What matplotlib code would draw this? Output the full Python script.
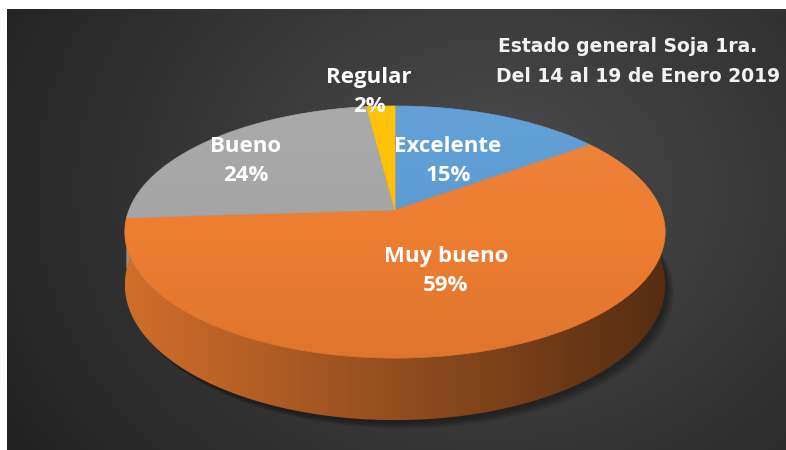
import numpy as np
import matplotlib.pyplot as plt
from matplotlib.patches import Polygon
from matplotlib.colors import to_rgb

# Datos
categorias = ['Excelente', 'Muy bueno', 'Bueno', 'Regular']
porcentajes = [15, 59, 24, 2]
colores = ['#5B9BD5', '#ED7D31', '#A5A5A5', '#FFC000']
titulo = ['Estado general Soja 1ra.', 'Del 14 al 19 de Enero 2019']

# Posición de las etiquetas (px)
pos_etiquetas = [(448, 161), (446, 271), (246, 161), (369, 92)]

# Geometría del pastel 3D (px, con perspectiva)
cx, cy = 395, 210
A, B, E = 266, 122.2, 0.1746
H = 51.2


def proyectar(t, z=0.0):
    x, y = np.cos(t), np.sin(t)
    w = 1 + E * y
    return cx + A * x / w, cy - B * y / w + H * z / w


fig = plt.figure(figsize=(7.86, 4.5), dpi=100, facecolor='white')
ax = fig.add_axes([0, 0, 1, 1])

# Fondo con degradado radial
xs = np.arange(7, 786)
ys = np.arange(9, 450)
X, Y = np.meshgrid(xs, ys)
d = np.clip(np.hypot(X - 490, (Y - 190) * 1.2) / 560, 0, 1)
c0 = np.array(to_rgb('#4d4d4d'))
c1 = np.array(to_rgb('#222222'))
fondo = c0 + (c1 - c0) * d[..., None]
ax.imshow(fondo, extent=(7, 786, 450, 9), zorder=0)

# Ángulos de cada porción (sentido horario desde arriba)
acum = np.cumsum([0] + porcentajes) / sum(porcentajes)
inicio = np.deg2rad(90 - 360 * acum[:-1])
fin = np.deg2rad(90 - 360 * acum[1:])

# Sombra
tt = np.linspace(0, 2 * np.pi, 300)
for k in range(8):
    bx, by = proyectar(tt, 1)
    ax.add_patch(Polygon(np.column_stack([bx + 2 + k, by + 3 + k * 0.8]),
                         closed=True, fc='black', ec='none', alpha=0.05, zorder=1))

# Lateral del cilindro: parte frontal de cada porción con degradado horizontal
xl, _ = proyectar(np.linspace(np.pi, 2 * np.pi, 400))
xmin, xmax = xl.min(), xl.max()
gx = np.linspace(0, 1, 400)
fact = 0.88 - 0.52 * gx
for i in range(len(porcentajes)):
    t = np.linspace(fin[i], inicio[i], 300)
    tm = t % (2 * np.pi)
    vis = tm >= np.pi
    if not vis.any():
        continue
    t = np.sort(tm[vis])
    sx, sy = proyectar(t)
    bx, by = proyectar(t[::-1], 1)
    lado = Polygon(np.column_stack([np.r_[sx, bx], np.r_[sy, by]]), closed=True,
                   fc='none', ec='none')
    ax.add_patch(lado)
    img = np.clip(np.array(to_rgb(colores[i]))[None, None, :] * fact[None, :, None], 0, 1)
    im = ax.imshow(img, extent=(xmin, xmax, 430, 200), zorder=2,
                   interpolation='bilinear')
    im.set_clip_path(lado)

# Cara superior
for i in range(len(porcentajes)):
    t = np.linspace(inicio[i], fin[i], 200)
    px, py = proyectar(t)
    pts = np.column_stack([np.r_[cx, px], np.r_[cy, py]])
    ax.add_patch(Polygon(pts, closed=True, fc=colores[i], ec=colores[i],
                         lw=0.5, zorder=3))

# Brillo suave sobre la cara superior
tx, ty = proyectar(tt)
borde = Polygon(np.column_stack([tx, ty]), closed=True, fc='none', ec='none')
ax.add_patch(borde)
g = np.linspace(0, 1, 200)[:, None]
brillo = np.zeros((200, 2, 4))
brillo[..., :3] = np.where(g[..., None] < 0.5, 1.0, 0.0)
brillo[..., 3] = np.abs(g - 0.5) * 0.12
im = ax.imshow(brillo, extent=(tx.min(), tx.max(), ty.max(), ty.min()), zorder=4)
im.set_clip_path(borde)

# Etiquetas
for nombre, valor, (lx, ly) in zip(categorias, porcentajes, pos_etiquetas):
    ax.text(lx, ly, f'{nombre}\n{valor}%', ha='center', va='center',
            multialignment='center', color='white', fontsize=16,
            fontweight='bold', family=['Open Sans', 'DejaVu Sans'],
            linespacing=1.45, zorder=5)

# Título
ax.text(628, 47, titulo[0], ha='center', va='center', color='#F2F2F2',
        fontsize=13.5, fontweight='bold', family='DejaVu Sans', zorder=5)
ax.text(638, 77, titulo[1], ha='center', va='center', color='#F2F2F2',
        fontsize=13.5, fontweight='bold', family='DejaVu Sans', zorder=5)

ax.set_xlim(0, 786)
ax.set_ylim(450, 0)
ax.set_aspect('auto')
ax.axis('off')

plt.savefig('out.png', dpi=100, facecolor='white')
